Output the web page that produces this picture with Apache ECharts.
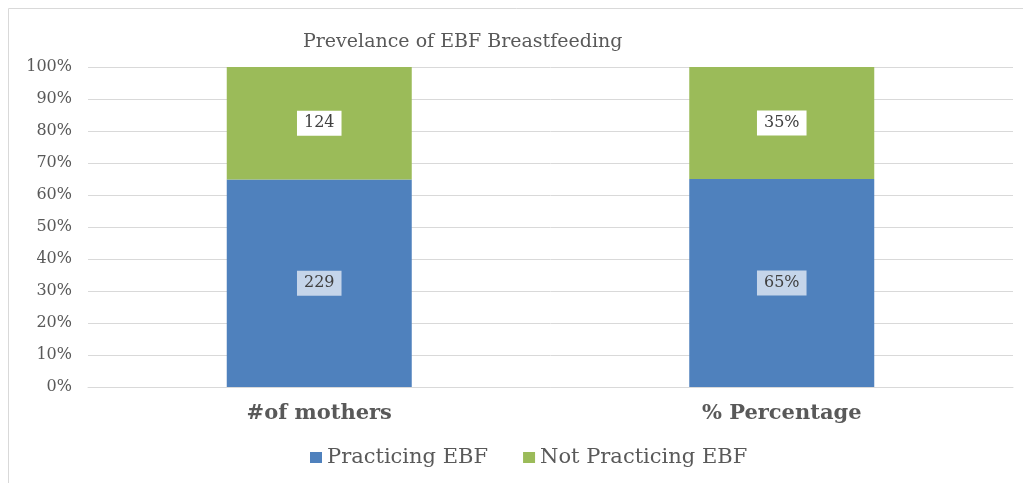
<!DOCTYPE html>
<html>
<head>
<meta charset="utf-8">
<script src="https://cdn.jsdelivr.net/npm/echarts@6/dist/echarts.min.js"></script>
<style>
  html, body { margin: 0; padding: 0; background: #fff; }
  #chart { width: 1023px; height: 483px; }
</style>
</head>
<body>
<div id="chart"></div>
<script>
// categories and raw values
const categories = ['#of mothers', '% Percentage']
const practicing = [229, 65]
const notPracticing = [124, 35]
const labelSuffix = ['', '%']
const yTicks = [0, 10, 20, 30, 40, 50, 60, 70, 80, 90, 100]

// 100% stacked: share of each category total
const totals = categories.map((c, i) => practicing[i] + notPracticing[i])
const pct = (arr) => arr.map((v, i) => v / totals[i] * 100)

const chart = echarts.init(document.getElementById('chart'))

const labelStyle = (bg) => ({
  show: true,
  position: 'inside',
  color: '#404040',
  fontFamily: 'DejaVu Serif',
  fontSize: 16,
  backgroundColor: bg,
  padding: [5, 7, 4, 7],
  formatter: (p) => p.data.raw + labelSuffix[p.dataIndex]
})

chart.setOption({
  animation: false,
  title: {
    text: 'Prevelance of EBF Breastfeeding',
    left: 298,
    top: 28,
    textStyle: {
      fontFamily: 'DejaVu Serif',
      fontWeight: 'normal',
      fontSize: 19,
      color: '#595959'
    }
  },
  graphic: [{
    type: 'rect',
    shape: { x: 8.5, y: 8.5, width: 1040, height: 500 },
    style: { fill: 'none', stroke: '#d9d9d9', lineWidth: 1 },
    silent: true
  }],
  legend: {
    bottom: 10,
    left: 305,
    itemWidth: 12,
    itemHeight: 11,
    itemGap: 35,
    icon: 'rect',
    textStyle: { fontFamily: 'DejaVu Serif', fontSize: 21, color: '#595959' },
    data: ['Practicing EBF', 'Not Practicing EBF']
  },
  grid: { left: 88, right: 10, top: 67, bottom: 96 },
  xAxis: {
    type: 'category',
    data: categories,
    axisTick: { show: false },
    axisLine: { lineStyle: { color: '#d9d9d9' } },
    axisLabel: {
      margin: 16,
      fontFamily: 'DejaVu Serif',
      fontWeight: 'bold',
      fontSize: 21,
      color: '#595959'
    }
  },
  yAxis: {
    type: 'value',
    min: yTicks[0],
    max: yTicks[yTicks.length - 1],
    interval: 10,
    axisLine: { show: false },
    axisTick: { show: false },
    splitLine: { lineStyle: { color: '#d9d9d9' } },
    axisLabel: {
      margin: 16,
      fontFamily: 'DejaVu Serif',
      fontSize: 16,
      color: '#595959',
      formatter: '{value}%'
    }
  },
  series: [
    {
      name: 'Practicing EBF',
      type: 'bar',
      stack: 'total',
      barWidth: '40%',
      itemStyle: { color: '#4f81bd' },
      label: labelStyle('#c5d5ea'),
      data: pct(practicing).map((v, i) => ({ value: v, raw: practicing[i] }))
    },
    {
      name: 'Not Practicing EBF',
      type: 'bar',
      stack: 'total',
      barWidth: '40%',
      itemStyle: { color: '#9bbb59' },
      label: labelStyle('#ffffff'),
      data: pct(notPracticing).map((v, i) => ({ value: v, raw: notPracticing[i] }))
    }
  ]
})
</script>
</body>
</html>
